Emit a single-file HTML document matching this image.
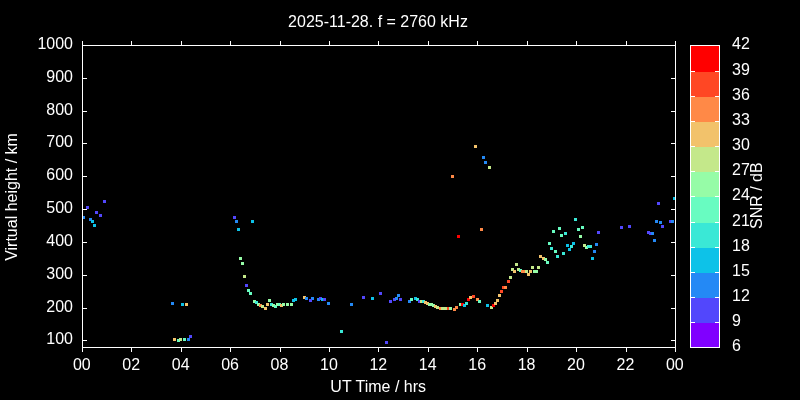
<!DOCTYPE html><html><head><meta charset="utf-8"><title>plot</title>
<style>html,body{margin:0;padding:0;background:#000;}svg{display:block}text{font-family:"Liberation Sans",sans-serif;font-size:16px;fill:#fff}</style></head><body>
<svg width="800" height="400" viewBox="0 0 800 400">
<rect width="800" height="400" fill="#000"/>
<g shape-rendering="crispEdges">
<rect x="82" y="216" width="3" height="3" fill="#2489f5"/>
<rect x="86" y="206" width="3" height="3" fill="#5247fc"/>
<rect x="89" y="218" width="3" height="3" fill="#2489f5"/>
<rect x="91" y="220" width="3" height="3" fill="#0dc2e8"/>
<rect x="93" y="224" width="3" height="3" fill="#0dc2e8"/>
<rect x="95" y="211" width="3" height="3" fill="#5247fc"/>
<rect x="99" y="214" width="3" height="3" fill="#5247fc"/>
<rect x="103" y="200" width="3" height="3" fill="#5247fc"/>
<rect x="171" y="302" width="3" height="3" fill="#2489f5"/>
<rect x="181" y="303" width="3" height="3" fill="#0dc2e8"/>
<rect x="185" y="303" width="3" height="3" fill="#f2c26b"/>
<rect x="173" y="338" width="3" height="3" fill="#f2c26b"/>
<rect x="177" y="339" width="3" height="3" fill="#68fcc1"/>
<rect x="179" y="338" width="3" height="3" fill="#c4e88a"/>
<rect x="183" y="338" width="3" height="3" fill="#68fcc1"/>
<rect x="187" y="338" width="3" height="3" fill="#2489f5"/>
<rect x="189" y="335" width="3" height="3" fill="#5247fc"/>
<rect x="233" y="216" width="3" height="3" fill="#5247fc"/>
<rect x="235" y="220" width="3" height="3" fill="#2489f5"/>
<rect x="237" y="228" width="3" height="3" fill="#0dc2e8"/>
<rect x="251" y="220" width="3" height="3" fill="#0dc2e8"/>
<rect x="239" y="257" width="3" height="3" fill="#96fca7"/>
<rect x="241" y="262" width="3" height="3" fill="#96fca7"/>
<rect x="243" y="275" width="3" height="3" fill="#c4e88a"/>
<rect x="245" y="284" width="3" height="3" fill="#5247fc"/>
<rect x="247" y="289" width="3" height="3" fill="#68fcc1"/>
<rect x="249" y="292" width="3" height="3" fill="#68fcc1"/>
<rect x="253" y="300" width="3" height="3" fill="#96fca7"/>
<rect x="255" y="301" width="3" height="3" fill="#3ae8d6"/>
<rect x="257" y="303" width="3" height="3" fill="#96fca7"/>
<rect x="259" y="304" width="3" height="3" fill="#ff8947"/>
<rect x="261" y="305" width="3" height="3" fill="#c4e88a"/>
<rect x="264" y="307" width="3" height="3" fill="#f2c26b"/>
<rect x="266" y="303" width="3" height="3" fill="#f2c26b"/>
<rect x="268" y="299" width="3" height="3" fill="#96fca7"/>
<rect x="270" y="303" width="3" height="3" fill="#3ae8d6"/>
<rect x="272" y="304" width="3" height="3" fill="#96fca7"/>
<rect x="274" y="305" width="3" height="3" fill="#68fcc1"/>
<rect x="276" y="303" width="3" height="3" fill="#96fca7"/>
<rect x="278" y="303" width="3" height="3" fill="#68fcc1"/>
<rect x="280" y="304" width="3" height="3" fill="#f2c26b"/>
<rect x="282" y="303" width="3" height="3" fill="#96fca7"/>
<rect x="286" y="303" width="3" height="3" fill="#96fca7"/>
<rect x="290" y="303" width="3" height="3" fill="#96fca7"/>
<rect x="292" y="299" width="3" height="3" fill="#0dc2e8"/>
<rect x="294" y="298" width="3" height="3" fill="#0dc2e8"/>
<rect x="303" y="296" width="3" height="3" fill="#f2c26b"/>
<rect x="305" y="297" width="3" height="3" fill="#2489f5"/>
<rect x="311" y="297" width="3" height="3" fill="#2489f5"/>
<rect x="309" y="299" width="3" height="3" fill="#5247fc"/>
<rect x="317" y="298" width="3" height="3" fill="#2489f5"/>
<rect x="319" y="297" width="3" height="3" fill="#5247fc"/>
<rect x="321" y="298" width="3" height="3" fill="#0dc2e8"/>
<rect x="323" y="298" width="3" height="3" fill="#5247fc"/>
<rect x="327" y="302" width="3" height="3" fill="#2489f5"/>
<rect x="350" y="303" width="3" height="3" fill="#2489f5"/>
<rect x="362" y="296" width="3" height="3" fill="#5247fc"/>
<rect x="371" y="297" width="3" height="3" fill="#0dc2e8"/>
<rect x="379" y="292" width="3" height="3" fill="#5247fc"/>
<rect x="340" y="330" width="3" height="3" fill="#3ae8d6"/>
<rect x="385" y="341" width="3" height="3" fill="#5247fc"/>
<rect x="389" y="300" width="3" height="3" fill="#5247fc"/>
<rect x="393" y="298" width="3" height="3" fill="#5247fc"/>
<rect x="395" y="297" width="3" height="3" fill="#2489f5"/>
<rect x="397" y="294" width="3" height="3" fill="#2489f5"/>
<rect x="399" y="298" width="3" height="3" fill="#5247fc"/>
<rect x="408" y="300" width="3" height="3" fill="#2489f5"/>
<rect x="410" y="298" width="3" height="3" fill="#68fcc1"/>
<rect x="414" y="297" width="3" height="3" fill="#0dc2e8"/>
<rect x="416" y="298" width="3" height="3" fill="#3ae8d6"/>
<rect x="418" y="300" width="3" height="3" fill="#5247fc"/>
<rect x="420" y="300" width="3" height="3" fill="#c4e88a"/>
<rect x="422" y="300" width="3" height="3" fill="#3ae8d6"/>
<rect x="424" y="301" width="3" height="3" fill="#f2c26b"/>
<rect x="426" y="302" width="3" height="3" fill="#f2c26b"/>
<rect x="428" y="303" width="3" height="3" fill="#96fca7"/>
<rect x="430" y="303" width="3" height="3" fill="#96fca7"/>
<rect x="432" y="304" width="3" height="3" fill="#96fca7"/>
<rect x="434" y="305" width="3" height="3" fill="#f2c26b"/>
<rect x="436" y="306" width="3" height="3" fill="#c4e88a"/>
<rect x="439" y="307" width="3" height="3" fill="#ff8947"/>
<rect x="441" y="307" width="3" height="3" fill="#c4e88a"/>
<rect x="444" y="307" width="3" height="3" fill="#c4e88a"/>
<rect x="447" y="307" width="3" height="3" fill="#ff4724"/>
<rect x="449" y="307" width="3" height="3" fill="#96fca7"/>
<rect x="453" y="308" width="3" height="3" fill="#ff8947"/>
<rect x="455" y="306" width="3" height="3" fill="#ff8947"/>
<rect x="459" y="303" width="3" height="3" fill="#96fca7"/>
<rect x="461" y="303" width="3" height="3" fill="#ff0000"/>
<rect x="463" y="304" width="3" height="3" fill="#0dc2e8"/>
<rect x="465" y="302" width="3" height="3" fill="#3ae8d6"/>
<rect x="467" y="298" width="3" height="3" fill="#ff0000"/>
<rect x="469" y="296" width="3" height="3" fill="#f2c26b"/>
<rect x="472" y="295" width="3" height="3" fill="#ff4724"/>
<rect x="476" y="298" width="3" height="3" fill="#ff8947"/>
<rect x="478" y="300" width="3" height="3" fill="#68fcc1"/>
<rect x="486" y="304" width="3" height="3" fill="#0dc2e8"/>
<rect x="490" y="306" width="3" height="3" fill="#c4e88a"/>
<rect x="492" y="304" width="3" height="3" fill="#ff0000"/>
<rect x="494" y="302" width="3" height="3" fill="#f2c26b"/>
<rect x="496" y="299" width="3" height="3" fill="#f2c26b"/>
<rect x="498" y="294" width="3" height="3" fill="#f2c26b"/>
<rect x="500" y="290" width="3" height="3" fill="#ff4724"/>
<rect x="502" y="286" width="3" height="3" fill="#ff4724"/>
<rect x="504" y="286" width="3" height="3" fill="#ff8947"/>
<rect x="507" y="280" width="3" height="3" fill="#ff4724"/>
<rect x="509" y="276" width="3" height="3" fill="#c4e88a"/>
<rect x="511" y="268" width="3" height="3" fill="#c4e88a"/>
<rect x="513" y="270" width="3" height="3" fill="#f2c26b"/>
<rect x="515" y="263" width="3" height="3" fill="#c4e88a"/>
<rect x="517" y="268" width="3" height="3" fill="#c4e88a"/>
<rect x="519" y="269" width="3" height="3" fill="#68fcc1"/>
<rect x="521" y="270" width="3" height="3" fill="#ff8947"/>
<rect x="523" y="270" width="3" height="3" fill="#ff8947"/>
<rect x="525" y="270" width="3" height="3" fill="#c4e88a"/>
<rect x="527" y="273" width="3" height="3" fill="#f2c26b"/>
<rect x="529" y="270" width="3" height="3" fill="#f2c26b"/>
<rect x="531" y="266" width="3" height="3" fill="#c4e88a"/>
<rect x="533" y="270" width="3" height="3" fill="#96fca7"/>
<rect x="535" y="270" width="3" height="3" fill="#96fca7"/>
<rect x="537" y="266" width="3" height="3" fill="#c4e88a"/>
<rect x="539" y="255" width="3" height="3" fill="#f2c26b"/>
<rect x="542" y="257" width="3" height="3" fill="#f2c26b"/>
<rect x="544" y="258" width="3" height="3" fill="#96fca7"/>
<rect x="546" y="261" width="3" height="3" fill="#68fcc1"/>
<rect x="548" y="242" width="3" height="3" fill="#68fcc1"/>
<rect x="550" y="247" width="3" height="3" fill="#3ae8d6"/>
<rect x="552" y="230" width="3" height="3" fill="#68fcc1"/>
<rect x="554" y="250" width="3" height="3" fill="#68fcc1"/>
<rect x="556" y="255" width="3" height="3" fill="#3ae8d6"/>
<rect x="558" y="227" width="3" height="3" fill="#68fcc1"/>
<rect x="560" y="234" width="3" height="3" fill="#68fcc1"/>
<rect x="562" y="252" width="3" height="3" fill="#3ae8d6"/>
<rect x="564" y="232" width="3" height="3" fill="#3ae8d6"/>
<rect x="566" y="244" width="3" height="3" fill="#0dc2e8"/>
<rect x="568" y="248" width="3" height="3" fill="#0dc2e8"/>
<rect x="570" y="245" width="3" height="3" fill="#3ae8d6"/>
<rect x="572" y="242" width="3" height="3" fill="#0dc2e8"/>
<rect x="574" y="218" width="3" height="3" fill="#3ae8d6"/>
<rect x="577" y="228" width="3" height="3" fill="#68fcc1"/>
<rect x="579" y="235" width="3" height="3" fill="#96fca7"/>
<rect x="581" y="226" width="3" height="3" fill="#68fcc1"/>
<rect x="583" y="244" width="3" height="3" fill="#c4e88a"/>
<rect x="585" y="246" width="3" height="3" fill="#96fca7"/>
<rect x="587" y="245" width="3" height="3" fill="#3ae8d6"/>
<rect x="589" y="245" width="3" height="3" fill="#3ae8d6"/>
<rect x="591" y="257" width="3" height="3" fill="#0dc2e8"/>
<rect x="593" y="250" width="3" height="3" fill="#2489f5"/>
<rect x="595" y="243" width="3" height="3" fill="#2489f5"/>
<rect x="597" y="231" width="3" height="3" fill="#5247fc"/>
<rect x="620" y="226" width="3" height="3" fill="#5247fc"/>
<rect x="628" y="225" width="3" height="3" fill="#5247fc"/>
<rect x="647" y="231" width="3" height="3" fill="#5247fc"/>
<rect x="649" y="232" width="3" height="3" fill="#5247fc"/>
<rect x="651" y="232" width="3" height="3" fill="#2489f5"/>
<rect x="653" y="239" width="3" height="3" fill="#2489f5"/>
<rect x="655" y="220" width="3" height="3" fill="#2489f5"/>
<rect x="657" y="202" width="3" height="3" fill="#5247fc"/>
<rect x="659" y="221" width="3" height="3" fill="#2489f5"/>
<rect x="661" y="225" width="3" height="3" fill="#5247fc"/>
<rect x="669" y="220" width="3" height="3" fill="#5247fc"/>
<rect x="671" y="220" width="3" height="3" fill="#2489f5"/>
<rect x="673" y="197" width="3" height="3" fill="#0dc2e8"/>
<rect x="474" y="145" width="3" height="3" fill="#f2c26b"/>
<rect x="482" y="156" width="3" height="3" fill="#2489f5"/>
<rect x="484" y="161" width="3" height="3" fill="#2489f5"/>
<rect x="488" y="166" width="3" height="3" fill="#c4e88a"/>
<rect x="451" y="175" width="3" height="3" fill="#ff8947"/>
<rect x="480" y="228" width="3" height="3" fill="#ff8947"/>
<rect x="457" y="235" width="3" height="3" fill="#ff0000"/>
</g>
<g shape-rendering="crispEdges" fill="#fff">
<rect x="82" y="45" width="594" height="1"/>
<rect x="82" y="347" width="594" height="1"/>
<rect x="82" y="45" width="1" height="303"/>
<rect x="675" y="45" width="1" height="303"/>
<rect x="82" y="347" width="1" height="5"/>
<rect x="82" y="41" width="1" height="5"/>
<rect x="131" y="347" width="1" height="5"/>
<rect x="131" y="41" width="1" height="5"/>
<rect x="181" y="347" width="1" height="5"/>
<rect x="181" y="41" width="1" height="5"/>
<rect x="230" y="347" width="1" height="5"/>
<rect x="230" y="41" width="1" height="5"/>
<rect x="280" y="347" width="1" height="5"/>
<rect x="280" y="41" width="1" height="5"/>
<rect x="329" y="347" width="1" height="5"/>
<rect x="329" y="41" width="1" height="5"/>
<rect x="378" y="347" width="1" height="5"/>
<rect x="378" y="41" width="1" height="5"/>
<rect x="428" y="347" width="1" height="5"/>
<rect x="428" y="41" width="1" height="5"/>
<rect x="477" y="347" width="1" height="5"/>
<rect x="477" y="41" width="1" height="5"/>
<rect x="527" y="347" width="1" height="5"/>
<rect x="527" y="41" width="1" height="5"/>
<rect x="576" y="347" width="1" height="5"/>
<rect x="576" y="41" width="1" height="5"/>
<rect x="626" y="347" width="1" height="5"/>
<rect x="626" y="41" width="1" height="5"/>
<rect x="675" y="347" width="1" height="5"/>
<rect x="675" y="41" width="1" height="5"/>
<rect x="82" y="340" width="5" height="1"/>
<rect x="671" y="340" width="5" height="1"/>
<rect x="82" y="308" width="5" height="1"/>
<rect x="671" y="308" width="5" height="1"/>
<rect x="82" y="275" width="5" height="1"/>
<rect x="671" y="275" width="5" height="1"/>
<rect x="82" y="242" width="5" height="1"/>
<rect x="671" y="242" width="5" height="1"/>
<rect x="82" y="209" width="5" height="1"/>
<rect x="671" y="209" width="5" height="1"/>
<rect x="82" y="176" width="5" height="1"/>
<rect x="671" y="176" width="5" height="1"/>
<rect x="82" y="143" width="5" height="1"/>
<rect x="671" y="143" width="5" height="1"/>
<rect x="82" y="111" width="5" height="1"/>
<rect x="671" y="111" width="5" height="1"/>
<rect x="82" y="78" width="5" height="1"/>
<rect x="671" y="78" width="5" height="1"/>
<rect x="82" y="45" width="5" height="1"/>
<rect x="671" y="45" width="5" height="1"/>
</g>
<g shape-rendering="crispEdges">
<rect x="690" y="323" width="30" height="25" fill="#8000ff"/>
<rect x="690" y="298" width="30" height="25" fill="#5247fc"/>
<rect x="690" y="273" width="30" height="25" fill="#2489f5"/>
<rect x="690" y="248" width="30" height="25" fill="#0dc2e8"/>
<rect x="690" y="223" width="30" height="25" fill="#3ae8d6"/>
<rect x="690" y="197" width="30" height="26" fill="#68fcc1"/>
<rect x="690" y="172" width="30" height="25" fill="#96fca7"/>
<rect x="690" y="147" width="30" height="25" fill="#c4e88a"/>
<rect x="690" y="122" width="30" height="25" fill="#f2c26b"/>
<rect x="690" y="97" width="30" height="25" fill="#ff8947"/>
<rect x="690" y="72" width="30" height="25" fill="#ff4724"/>
<rect x="690" y="45" width="30" height="27" fill="#ff0000"/>
<g fill="#fff">
<rect x="690" y="322" width="5" height="1"/>
<rect x="715" y="322" width="5" height="1"/>
<rect x="690" y="297" width="5" height="1"/>
<rect x="715" y="297" width="5" height="1"/>
<rect x="690" y="272" width="5" height="1"/>
<rect x="715" y="272" width="5" height="1"/>
<rect x="690" y="247" width="5" height="1"/>
<rect x="715" y="247" width="5" height="1"/>
<rect x="690" y="222" width="5" height="1"/>
<rect x="715" y="222" width="5" height="1"/>
<rect x="690" y="196" width="5" height="1"/>
<rect x="715" y="196" width="5" height="1"/>
<rect x="690" y="171" width="5" height="1"/>
<rect x="715" y="171" width="5" height="1"/>
<rect x="690" y="146" width="5" height="1"/>
<rect x="715" y="146" width="5" height="1"/>
<rect x="690" y="121" width="5" height="1"/>
<rect x="715" y="121" width="5" height="1"/>
<rect x="690" y="96" width="5" height="1"/>
<rect x="715" y="96" width="5" height="1"/>
<rect x="690" y="71" width="5" height="1"/>
<rect x="715" y="71" width="5" height="1"/>
<rect x="690" y="45" width="30" height="1"/>
<rect x="690" y="347" width="30" height="1"/>
<rect x="690" y="45" width="1" height="303"/>
<rect x="719" y="45" width="1" height="303"/>
</g></g>
<g>
<text transform="translate(378.00,27.00) scale(1,1.045)" text-anchor="middle">2025-11-28. f = 2760 kHz</text>
<text transform="translate(81.80,370.00) scale(1,1.045)" text-anchor="middle">00</text>
<text transform="translate(131.22,370.00) scale(1,1.045)" text-anchor="middle">02</text>
<text transform="translate(180.63,370.00) scale(1,1.045)" text-anchor="middle">04</text>
<text transform="translate(230.05,370.00) scale(1,1.045)" text-anchor="middle">06</text>
<text transform="translate(279.47,370.00) scale(1,1.045)" text-anchor="middle">08</text>
<text transform="translate(328.88,370.00) scale(1,1.045)" text-anchor="middle">10</text>
<text transform="translate(378.30,370.00) scale(1,1.045)" text-anchor="middle">12</text>
<text transform="translate(427.72,370.00) scale(1,1.045)" text-anchor="middle">14</text>
<text transform="translate(477.13,370.00) scale(1,1.045)" text-anchor="middle">16</text>
<text transform="translate(526.55,370.00) scale(1,1.045)" text-anchor="middle">18</text>
<text transform="translate(575.97,370.00) scale(1,1.045)" text-anchor="middle">20</text>
<text transform="translate(625.38,370.00) scale(1,1.045)" text-anchor="middle">22</text>
<text transform="translate(674.80,370.00) scale(1,1.045)" text-anchor="middle">00</text>
<text transform="translate(73.00,344.10) scale(1,1.045)" text-anchor="end">100</text>
<text transform="translate(73.00,312.10) scale(1,1.045)" text-anchor="end">200</text>
<text transform="translate(73.00,279.10) scale(1,1.045)" text-anchor="end">300</text>
<text transform="translate(73.00,246.10) scale(1,1.045)" text-anchor="end">400</text>
<text transform="translate(73.00,213.10) scale(1,1.045)" text-anchor="end">500</text>
<text transform="translate(73.00,180.10) scale(1,1.045)" text-anchor="end">600</text>
<text transform="translate(73.00,147.10) scale(1,1.045)" text-anchor="end">700</text>
<text transform="translate(73.00,115.10) scale(1,1.045)" text-anchor="end">800</text>
<text transform="translate(73.00,82.10) scale(1,1.045)" text-anchor="end">900</text>
<text transform="translate(73.00,49.10) scale(1,1.045)" text-anchor="end">1000</text>
<text transform="translate(732.00,351.10) scale(1,1.045)">6</text>
<text transform="translate(732.00,326.10) scale(1,1.045)">9</text>
<text transform="translate(732.00,301.10) scale(1,1.045)">12</text>
<text transform="translate(732.00,276.10) scale(1,1.045)">15</text>
<text transform="translate(732.00,251.10) scale(1,1.045)">18</text>
<text transform="translate(732.00,226.10) scale(1,1.045)">21</text>
<text transform="translate(732.00,200.10) scale(1,1.045)">24</text>
<text transform="translate(732.00,175.10) scale(1,1.045)">27</text>
<text transform="translate(732.00,150.10) scale(1,1.045)">30</text>
<text transform="translate(732.00,125.10) scale(1,1.045)">33</text>
<text transform="translate(732.00,100.10) scale(1,1.045)">36</text>
<text transform="translate(732.00,75.10) scale(1,1.045)">39</text>
<text transform="translate(732.00,49.10) scale(1,1.045)">42</text>
<text transform="translate(378.20,391.50) scale(1,1.045)" text-anchor="middle">UT Time / hrs</text>
<text transform="translate(16.70,197.00) rotate(-90) scale(1,1.045)" text-anchor="middle">Virtual height / km</text>
<text transform="translate(762.00,195.70) rotate(-90) scale(1,1.045)" text-anchor="middle">SNR / dB</text>
</g>
</svg></body></html>
